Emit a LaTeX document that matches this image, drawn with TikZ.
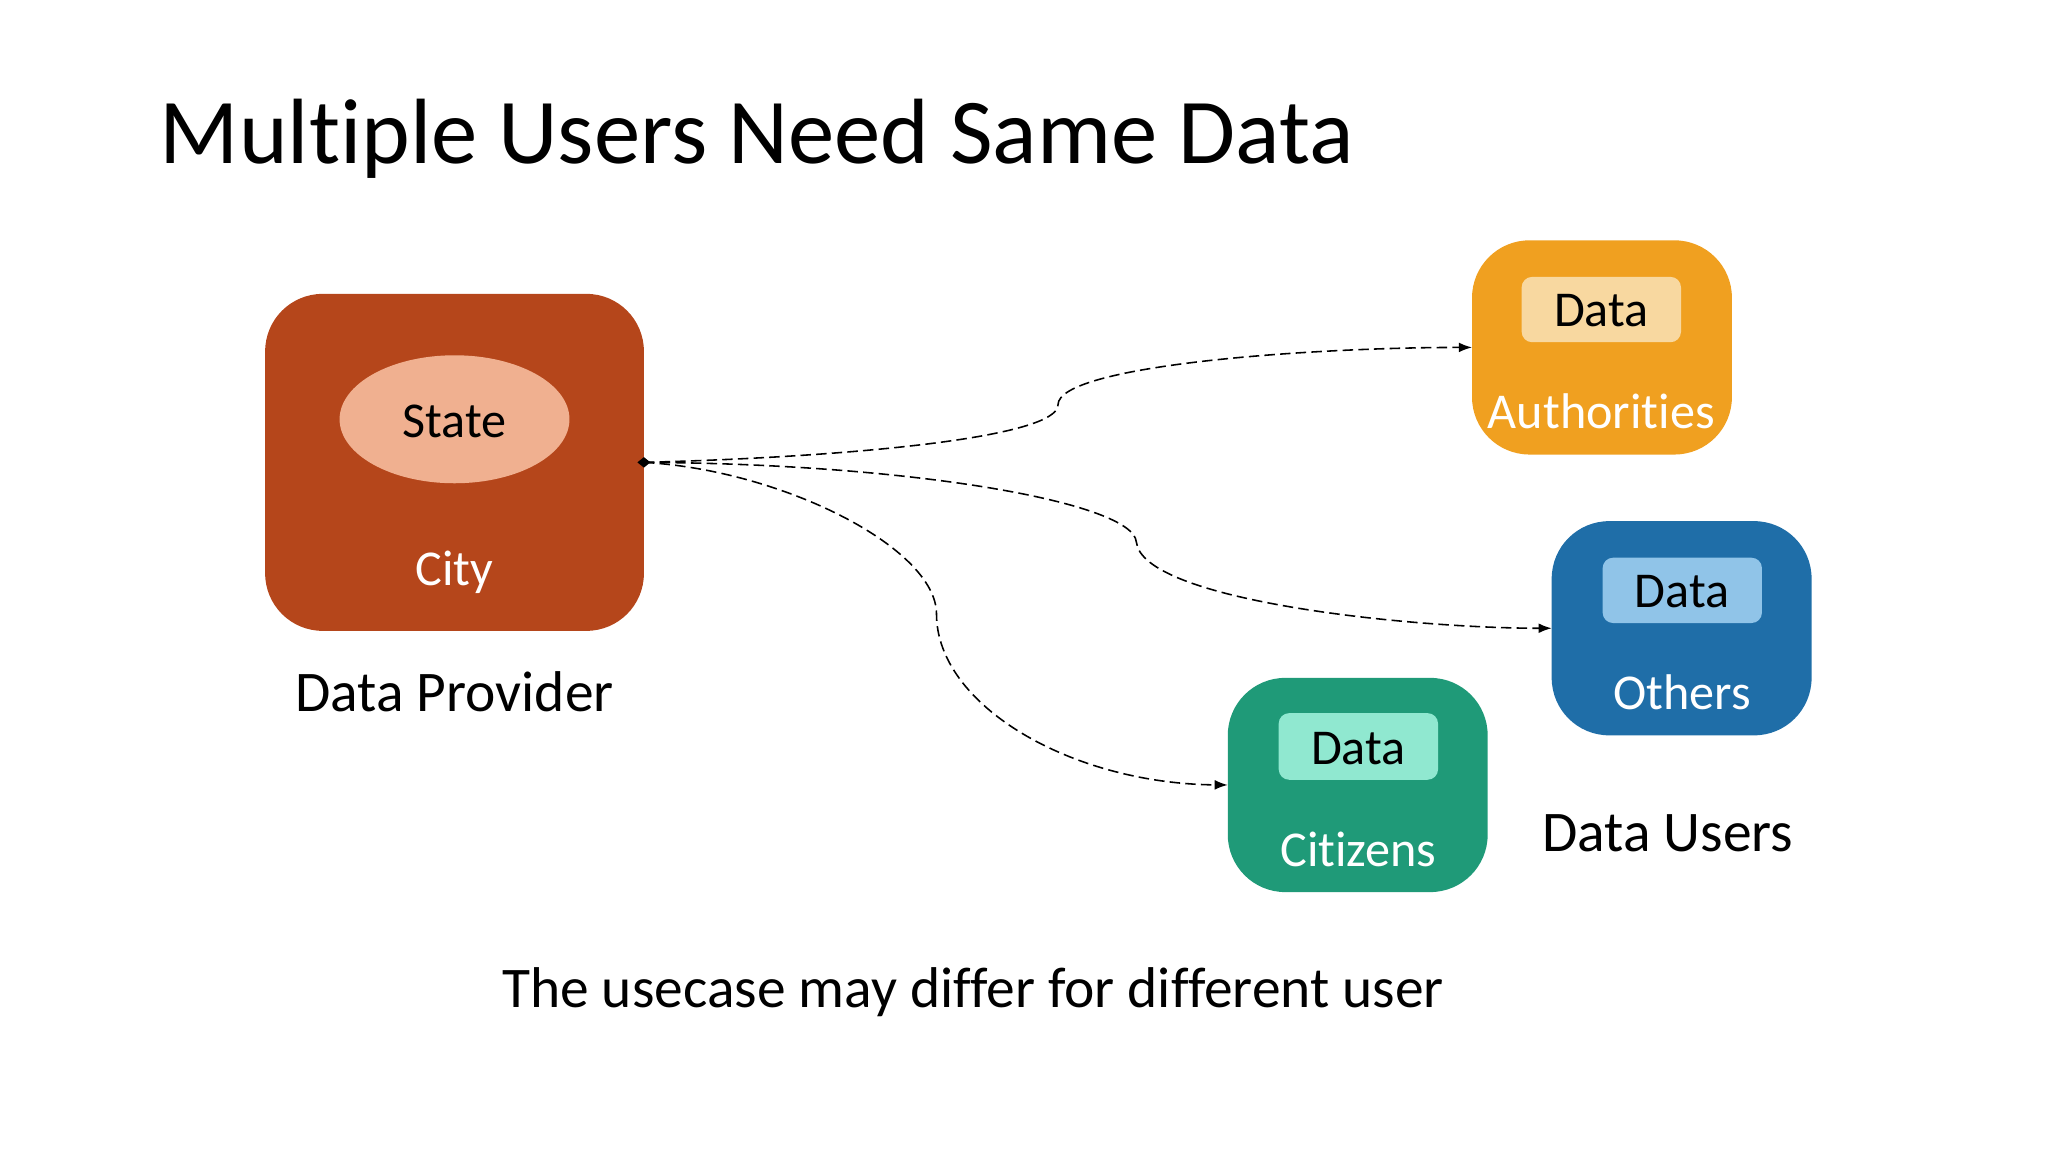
\documentclass[tikz,border=0pt]{standalone}
\usepackage{fontspec}
\setmainfont{Carlito}[Ligatures=NoCommon]
\usetikzlibrary{arrows.meta}
\definecolor{cityc}{HTML}{B5461B}
\definecolor{statec}{HTML}{F0B090}
\definecolor{authc}{HTML}{F0A020}
\definecolor{authi}{HTML}{F8D8A0}
\definecolor{othc}{HTML}{1F6EA8}
\definecolor{othi}{HTML}{90C4E8}
\definecolor{citc}{HTML}{1F9A78}
\definecolor{citi}{HTML}{90E8D0}
\begin{document}
\begin{tikzpicture}[x=0.5pt,y=-0.5pt,
  box/.style={rounded corners=22pt},
  inner/.style={rounded corners=4pt},
  wtxt/.style={text=white,font=\fontsize{19.2}{22}\selectfont},
  btxt/.style={text=black,font=\fontsize{19.2}{22}\selectfont},
  lbl/.style={font=\fontsize{22}{26}\selectfont},
  conn/.style={dash pattern=on 4pt off 2pt,line width=0.6pt,-{Latex[length=5pt]}}]
\useasboundingbox (0,0) rectangle (1568,882);
\node[anchor=base west,inner sep=0pt,font=\fontsize{35.5}{40}\selectfont] (title) at (122,125) {Multiple Users Need Same Data};
% City
\fill[cityc,box] (203,225) rectangle (493,483);
\fill[statec] (348,321) ellipse (88 and 49);
\node[btxt] (state) at (348,323) {State};
\node[wtxt] (city) at (348,438) {City};
\node[lbl] (prov) at (348,530) {Data Provider};
\coordinate (src) at (493,354);
\fill (src) ++(-5,0) -- ++(5,-4) -- ++(5,4) -- ++(-5,4) -- cycle;
% Authorities
\fill[authc,box] (1127,184) rectangle (1326,348);
\fill[authi,inner] (1165,212) rectangle (1287,262);
\node[btxt] (d1) at (1226,238) {Data};
\node[wtxt] (auth) at (1226,315) {Authorities};
\coordinate (authw) at (1127,266);
% Others
\fill[othc,box] (1188,399) rectangle (1387,563);
\fill[othi,inner] (1227,427) rectangle (1349,477);
\node[btxt] (d2) at (1288,453) {Data};
\node[wtxt] (oth) at (1288,530) {Others};
\coordinate (othw) at (1188,481);
% Citizens
\fill[citc,box] (940,519) rectangle (1139,683);
\fill[citi,inner] (979,546) rectangle (1101,597);
\node[btxt] (d3) at (1040,573) {Data};
\node[wtxt] (cit) at (1040,650) {Citizens};
\coordinate (citw) at (940,601);
\node[lbl] (users) at (1277,638) {Data Users};
\node[lbl] (note) at (745,760) {The usecase may differ for different user};
% connectors
\draw[conn] (src) .. controls (650,350) and (810,335) .. (810,310) .. controls (810,280) and (1000,266) .. (authw);
\draw[conn] (src) .. controls (700,355) and (868,385) .. (870,415) .. controls (875,460) and (1080,481) .. (othw);
\draw[conn] (src) .. controls (600,360) and (717,420) .. (717,470) .. controls (717,540) and (820,600) .. (citw);
\end{tikzpicture}
\end{document}
